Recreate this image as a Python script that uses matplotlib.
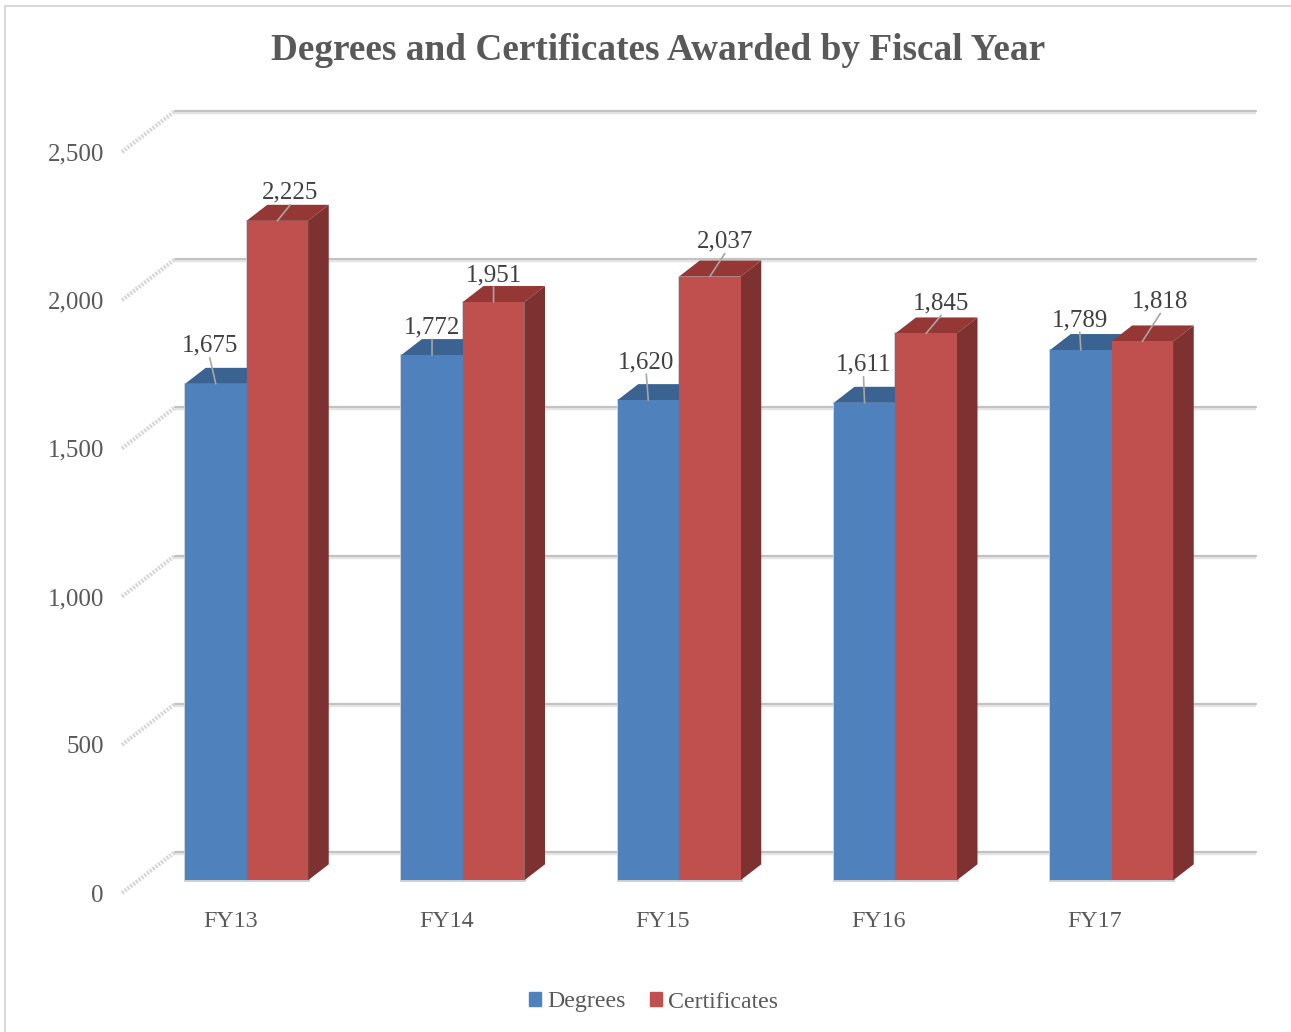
import matplotlib
matplotlib.use('Agg')
import matplotlib.pyplot as plt
from matplotlib.patches import Patch
from matplotlib.transforms import Affine2D

plt.rcParams['font.family'] = ['Liberation Serif', 'DejaVu Serif']

years = ['FY13', 'FY14', 'FY15', 'FY16', 'FY17']
degrees = [1675, 1772, 1620, 1611, 1789]
certificates = [2225, 1951, 2037, 1845, 1818]
y_ticks = [0, 500, 1000, 1500, 2000, 2500]

# label offsets from the top of each bar, in pixels
deg_offsets = [(-6, 38), (0, 28), (-2, 38), (-1, 38), (-1, 30)]
cert_offsets = [(13, 28), (0, 27), (15, 35), (15, 30), (18, 40)]

W, H = 1291, 1032
fig = plt.figure(figsize=(W / 100, H / 100), dpi=100)
fig.patch.set_facecolor('white')
ax = fig.add_axes([122 / W, 1 - 893 / H, 1081.25 / W, 741 / H])
ax.set_xlim(-0.5, 4.5)
ax.set_ylim(0, 2500)
ax.patch.set_alpha(0)
for s in ax.spines.values():
    s.set_visible(False)

# how far the floor runs back, in pixels
DEPTH_X, DEPTH_Y = 53, 41
BAR_D0, BAR_D1 = 0.31, 0.70
px_x = 5 / 1081.25
px_y = 2500 / 741


def depth(d):
    return ax.transData + Affine2D().translate(DEPTH_X * d, DEPTH_Y * d)


# chart border
fig.add_artist(plt.Line2D([5 / W, 5 / W, 1], [0, 1 - 6 / H, 1 - 6 / H], color='#d9d9d9', lw=1.5))

# back wall lines and side wall lines
for v in y_ticks:
    ax.plot([-0.5, 4.5], [v, v], color='#e4e4e4', lw=3.2, transform=depth(1) + Affine2D().translate(0, -1),
            clip_on=False, solid_capstyle='butt', zorder=1)
    ax.plot([-0.5, 4.5], [v, v], color='#bfbfbf', lw=1.3, transform=depth(1), clip_on=False, zorder=1.1)
    ax.plot([-0.5, -0.5 + DEPTH_X * px_x], [v, v + DEPTH_Y * px_y], color='#d6d6d6', lw=3, ls=(0, (0.5, 0.35)),
            clip_on=False, zorder=1)

bar_w = 0.2845
bar_dx = (BAR_D1 - BAR_D0) * DEPTH_X * px_x
bar_dy = (BAR_D1 - BAR_D0) * DEPTH_Y * px_y


def draw_bars(values, shift, front, top, side, z):
    for i, v in enumerate(values):
        x0 = i + shift
        x1 = x0 + bar_w
        tr = depth(BAR_D0)
        # pale halo sits under every bar
        ax.bar(x0, v, bar_w, align='edge', color='#c9ced6', edgecolor='#c9ced6', linewidth=2,
               transform=tr, clip_on=False, zorder=1.5)
        ax.bar(x0, v, bar_w, align='edge', color=front, linewidth=0,
               transform=tr, clip_on=False, zorder=z + 0.2)
        ax.fill([x0, x1, x1 + bar_dx, x0 + bar_dx], [v, v, v + bar_dy, v + bar_dy], color=top, lw=0,
                transform=tr, clip_on=False, zorder=z)
        ax.fill([x1, x1 + bar_dx, x1 + bar_dx, x1], [0, bar_dy, v + bar_dy, v], color=side, lw=0,
                transform=tr, clip_on=False, zorder=z)


draw_bars(degrees, -bar_w, '#4f81bd', '#3b6392', '#3b6392', 2)
draw_bars(certificates, 0, '#c0504d', '#953735', '#7d3130', 3)


def draw_labels(values, shift, offsets):
    for i, v in enumerate(values):
        ox, oy = offsets[i]
        ax.annotate(f'{v:,}', xy=(i + shift, v), xycoords=depth(BAR_D0), xytext=(ox, oy),
                    textcoords='offset pixels', ha='center', va='center', fontsize=18, color='#404040',
                    annotation_clip=False, zorder=5)
        ax.annotate('', xy=(i + shift, v), xycoords=depth(BAR_D0), xytext=(ox, oy - 12),
                    textcoords='offset pixels', annotation_clip=False, zorder=5,
                    arrowprops=dict(arrowstyle='-', color='#a6a6a6', lw=1.2, shrinkA=0, shrinkB=0))


draw_labels(degrees, -bar_w / 2, deg_offsets)
draw_labels(certificates, bar_w / 2, cert_offsets)

ax.set_xticks(range(len(years)))
ax.set_xticklabels(years, fontsize=17.3, color='#595959')
ax.set_yticks(y_ticks)
ax.set_yticklabels([f'{v:,}' for v in y_ticks], fontsize=18, color='#595959', va='center_baseline')
ax.tick_params(axis='both', length=0)
ax.tick_params(axis='x', pad=13)
ax.tick_params(axis='y', pad=13)

fig.text(658 / W, 1 - 51 / H, 'Degrees and Certificates Awarded by Fiscal Year', ha='center', va='center',
         fontsize=26.8, fontweight='bold', color='#595959')

handles = [Patch(color='#4f81bd', label='Degrees'), Patch(color='#c0504d', label='Certificates')]
fig.legend(handles=handles, loc='center', bbox_to_anchor=(653.5 / W, 1 - 1002 / H), ncol=2, frameon=False,
           fontsize=17.2, labelcolor='#595959', handlelength=0.5, handleheight=0.5, handletextpad=0.25,
           columnspacing=1.0)

fig.savefig('out.png', dpi=100)
